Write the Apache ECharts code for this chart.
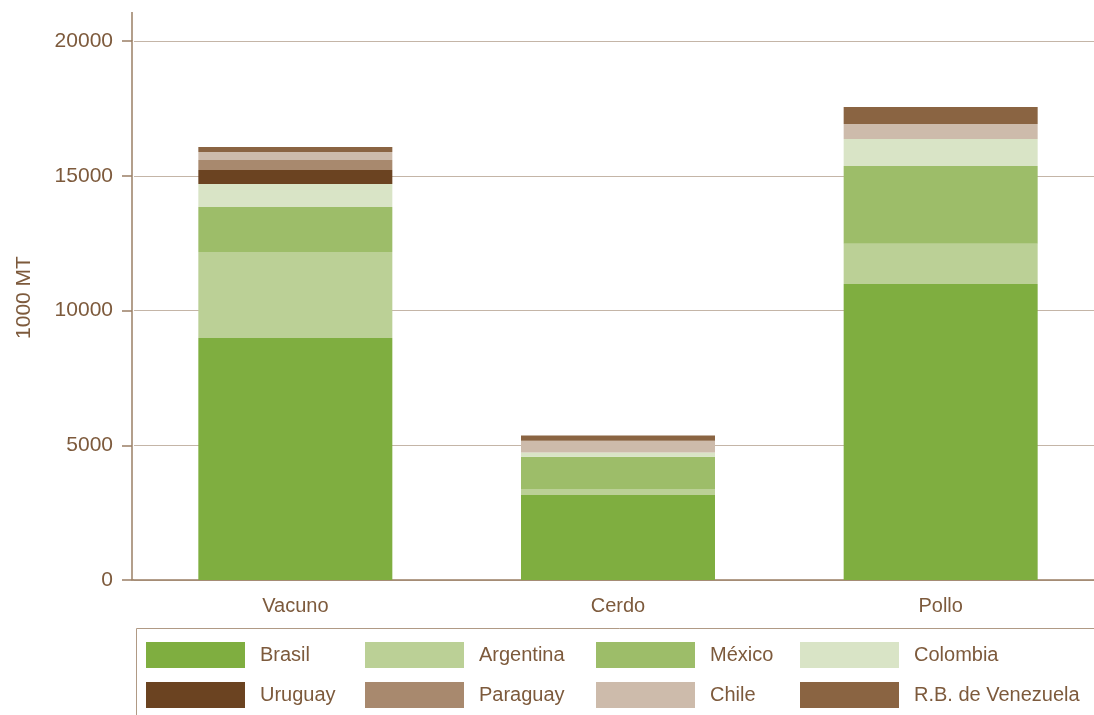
<!DOCTYPE html>
<html><head><meta charset="utf-8">
<script src="https://cdn.jsdelivr.net/npm/echarts@6/dist/echarts.min.js"></script>
<style>html,body{margin:0;padding:0;background:#fff;overflow:hidden}#c{width:1102px;height:715px}</style>
</head><body><div id="c"></div>
<script>
const categories = ['Vacuno', 'Cerdo', 'Pollo'];
const brasil    = [8980, 3150, 10980];
const argentina = [3190, 230, 1520];
const mexico    = [1670, 1190, 2860];
const colombia  = [850, 160, 1000];
const uruguay   = [520, 0, 0];
const paraguay  = [370, 0, 0];
const chile     = [300, 440, 560];
const venezuela = [190, 190, 630];
const yTicks = [0, 5000, 10000, 15000, 20000];

const seriesDefs = [
  ['Brasil', brasil, '#7fae40'],
  ['Argentina', argentina, '#bbd096'],
  ['México', mexico, '#9dbd69'],
  ['Colombia', colombia, '#d9e4c6'],
  ['Uruguay', uruguay, '#6b4321'],
  ['Paraguay', paraguay, '#a8896e'],
  ['Chile', chile, '#cdbbab'],
  ['R.B. de Venezuela', venezuela, '#8a6442']
];
const txt = '#7d5a3c';
const axisCol = '#9a7f65';
const gridCol = '#c4b5a7';
const font = 'Liberation Sans';

const chart = echarts.init(document.getElementById('c'), null, {renderer: 'canvas'});
const legendLeft = [146, 365, 596, 800];
const legendTop = [642, 682];
const legends = seriesDefs.map(([name], i) => ({
  data: [name], orient: 'horizontal',
  left: legendLeft[i % 4], top: legendTop[Math.floor(i / 4)],
  itemWidth: 99, itemHeight: 26, icon: 'rect', padding: 0,
  textStyle: {color: txt, fontSize: 20, fontFamily: font, padding: [6, 0, 0, 10]},
  selectedMode: false
}));
chart.setOption({
  animation: false,
  textStyle: {fontFamily: font},
  grid: {left: 134, right: 0, top: 41, bottom: 135, containLabel: false},
  xAxis: {
    type: 'category', data: categories,
    axisLine: {lineStyle: {color: axisCol, width: 1.5}},
    axisTick: {show: false},
    axisLabel: {color: txt, fontSize: 20, margin: 16, fontFamily: font}
  },
  yAxis: {
    type: 'value', min: yTicks[0], max: yTicks[yTicks.length-1], interval: 5000,
    offset: 2,
    name: '1000 MT', nameLocation: 'middle', nameGap: 97, nameRotate: 90,
    nameTextStyle: {color: txt, fontSize: 21, fontFamily: font, padding: [0, 0, 0, 26]},
    axisLine: {show: true, lineStyle: {color: axisCol, width: 1.5}},
    axisTick: {show: true, length: 10, lineStyle: {color: axisCol, width: 1.5}},
    axisLabel: {color: txt, fontSize: 21, margin: 19, fontFamily: font, formatter: v => String(v)},
    splitLine: {lineStyle: {color: gridCol, width: 1}}
  },
  legend: legends,
  graphic: [
    {type: 'line', shape: {x1: 132, y1: 12, x2: 132, y2: 41}, style: {stroke: axisCol, lineWidth: 1.5}},
    {type: 'line', shape: {x1: 132, y1: 580, x2: 134, y2: 580}, style: {stroke: axisCol, lineWidth: 1.5}},
    {type: 'rect', shape: {x: 136.5, y: 628.5, width: 1000, height: 120}, style: {fill: 'none', stroke: '#b09a85', lineWidth: 1}}
  ],
  series: seriesDefs.map(([name, data, color]) => ({
    name, type: 'bar', stack: 'total', data, barWidth: 194,
    itemStyle: {color}, emphasis: {disabled: true}
  }))
});
</script></body></html>
